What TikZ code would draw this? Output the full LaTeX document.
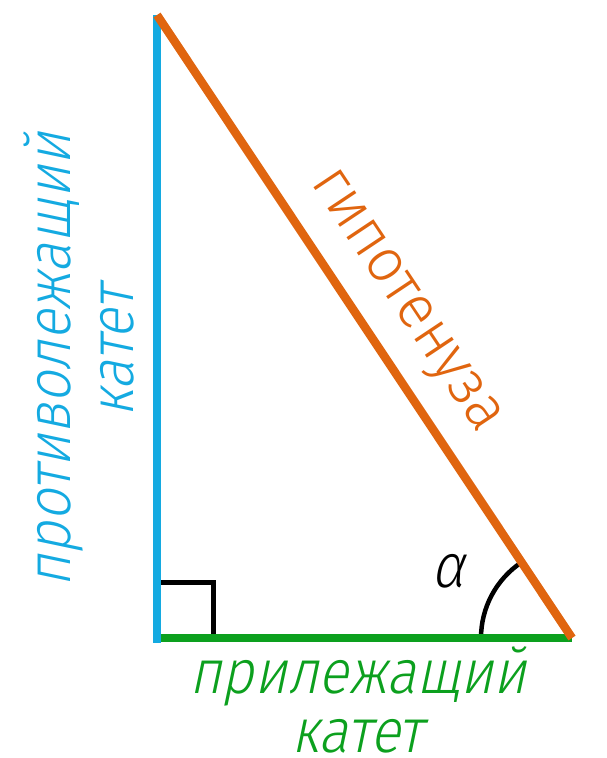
\documentclass[tikz,border=0pt]{standalone}
\usepackage{fontspec}
\IfFontExistsTF{Fira Sans Light}{%
  \setmainfont{Fira Sans Light}[FakeStretch=0.95]
  \newfontfamily\obl{Fira Sans Light}[FakeSlant=0.21, FakeStretch=0.9]}{%
  \setmainfont{Liberation Sans}
  \newfontfamily\obl{Liberation Sans}[FakeSlant=0.21]}
\definecolor{legblue}{RGB}{20,170,225}
\definecolor{leggreen}{RGB}{12,160,30}
\definecolor{hypor}{RGB}{224,101,15}
\tikzset{
  lbl/.style={inner sep=0pt, anchor=base, font=\fontsize{62}{62}\selectfont},
  side/.style={line width=8.5pt},
}
\begin{document}
\begin{tikzpicture}[x=1pt,y=1pt]
\useasboundingbox (0,0) rectangle (606,-758);
\coordinate (A) at (157,-15);
\coordinate (C) at (157,-638);
\coordinate (B) at (572,-638);
\coordinate (Cb) at (157,-643);
% right-angle mark
\coordinate (R1) at (157,-582.5);
\coordinate (R2) at (213,-582.5);
\coordinate (R3) at (213,-638);
\draw[line width=5pt, line cap=rect] (R1) -- (R2) -- (R3);
% angle arc
\draw[line width=4.5pt] (B) ++(180:91) arc[start angle=180, end angle=123.7, radius=91];
% sides
\draw[side, draw=leggreen] (C) -- (B);
\draw[side, draw=legblue] (A) -- (Cb);
\draw[side, draw=hypor] (A) -- (B);
% labels
\node[lbl, text=legblue, rotate=90] (opp1) at (70,-360) {\obl противолежащий};
\node[lbl, text=legblue, rotate=90] (opp2) at (133,-352) {\obl катет};
\node[lbl, text=leggreen] (adj1) at (358,-693) {\obl прилежащий};
\node[lbl, text=leggreen] (adj2) at (357,-752) {\obl катет};
\node[lbl, text=hypor, rotate=-56.3] (hyp) at (394.5,-308.6) {гипотенуза};
\node[lbl] (alpha) at (448,-587) {\obl α};
\end{tikzpicture}
\end{document}
